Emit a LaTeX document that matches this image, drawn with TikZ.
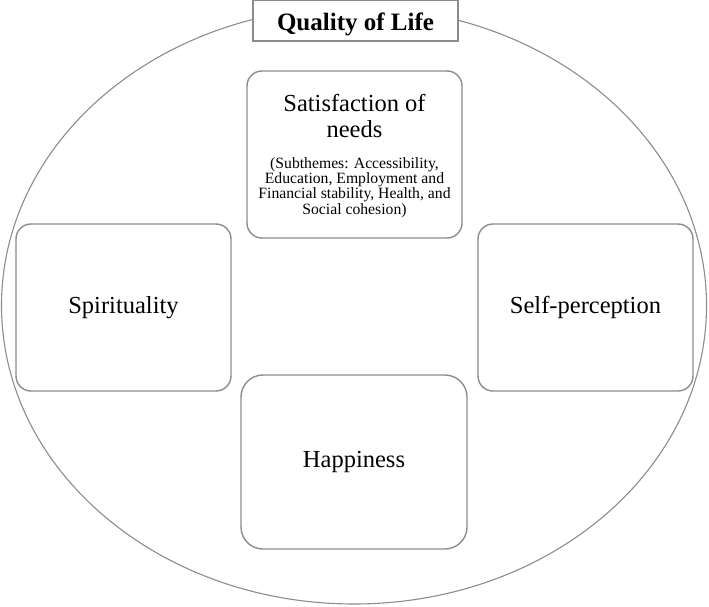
\documentclass[tikz,border=0pt]{standalone}
\usepackage{fontspec}
\setmainfont{Liberation Serif}
\definecolor{linegray}{RGB}{140,140,140}
\tikzset{
  frame/.style={draw=linegray, line width=1.4bp, fill=white},
  rbox/.style={frame, rounded corners=15bp},
  bigtxt/.style={font=\fontsize{24.5bp}{26bp}\selectfont, inner sep=0pt},
  smalltxt/.style={font=\fontsize{15.7bp}{14bp}\selectfont, inner sep=0pt, align=center},
}
\begin{document}
\begin{tikzpicture}[x=1bp,y=-1bp]
\useasboundingbox (0,0) rectangle (709,607);
% outer ellipse
\draw[draw=linegray, line width=1.1bp] (354,305.5) ellipse [x radius=352.5, y radius=298.5];
% title
\node[frame, minimum width=205bp, minimum height=41bp, inner sep=0pt] (title) at (355.5,20.5) {};
\node[font=\fontsize{25bp}{26bp}\selectfont\bfseries, inner sep=0pt, anchor=base] (titletxt) at (355.5,30.5) {Quality of Life};
% satisfaction box
\draw[rbox] (247,71) rectangle (462,238);
\node[bigtxt, anchor=base] (sat1) at (354.5,111.5) {Satisfaction of};
\node[bigtxt, anchor=base] (sat2) at (354.5,137.5) {needs};
\node[smalltxt] (sub) at (354.5,187.5) {(Subthemes: Accessibility,\\Education, Employment and\\Financial stability, Health, and\\Social cohesion)};
% spirituality
\draw[rbox] (16,224) rectangle (231,391);
\node[bigtxt] (spir) at (123.5,307.5) {Spirituality};
% self-perception
\draw[rbox] (478,224) rectangle (693,391);
\node[bigtxt] (self) at (585.5,307.5) {Self-perception};
% happiness
\draw[frame, rounded corners=22bp] (241,375) rectangle (467,549);
\node[bigtxt] (happy) at (354,462) {Happiness};
\end{tikzpicture}
\end{document}
